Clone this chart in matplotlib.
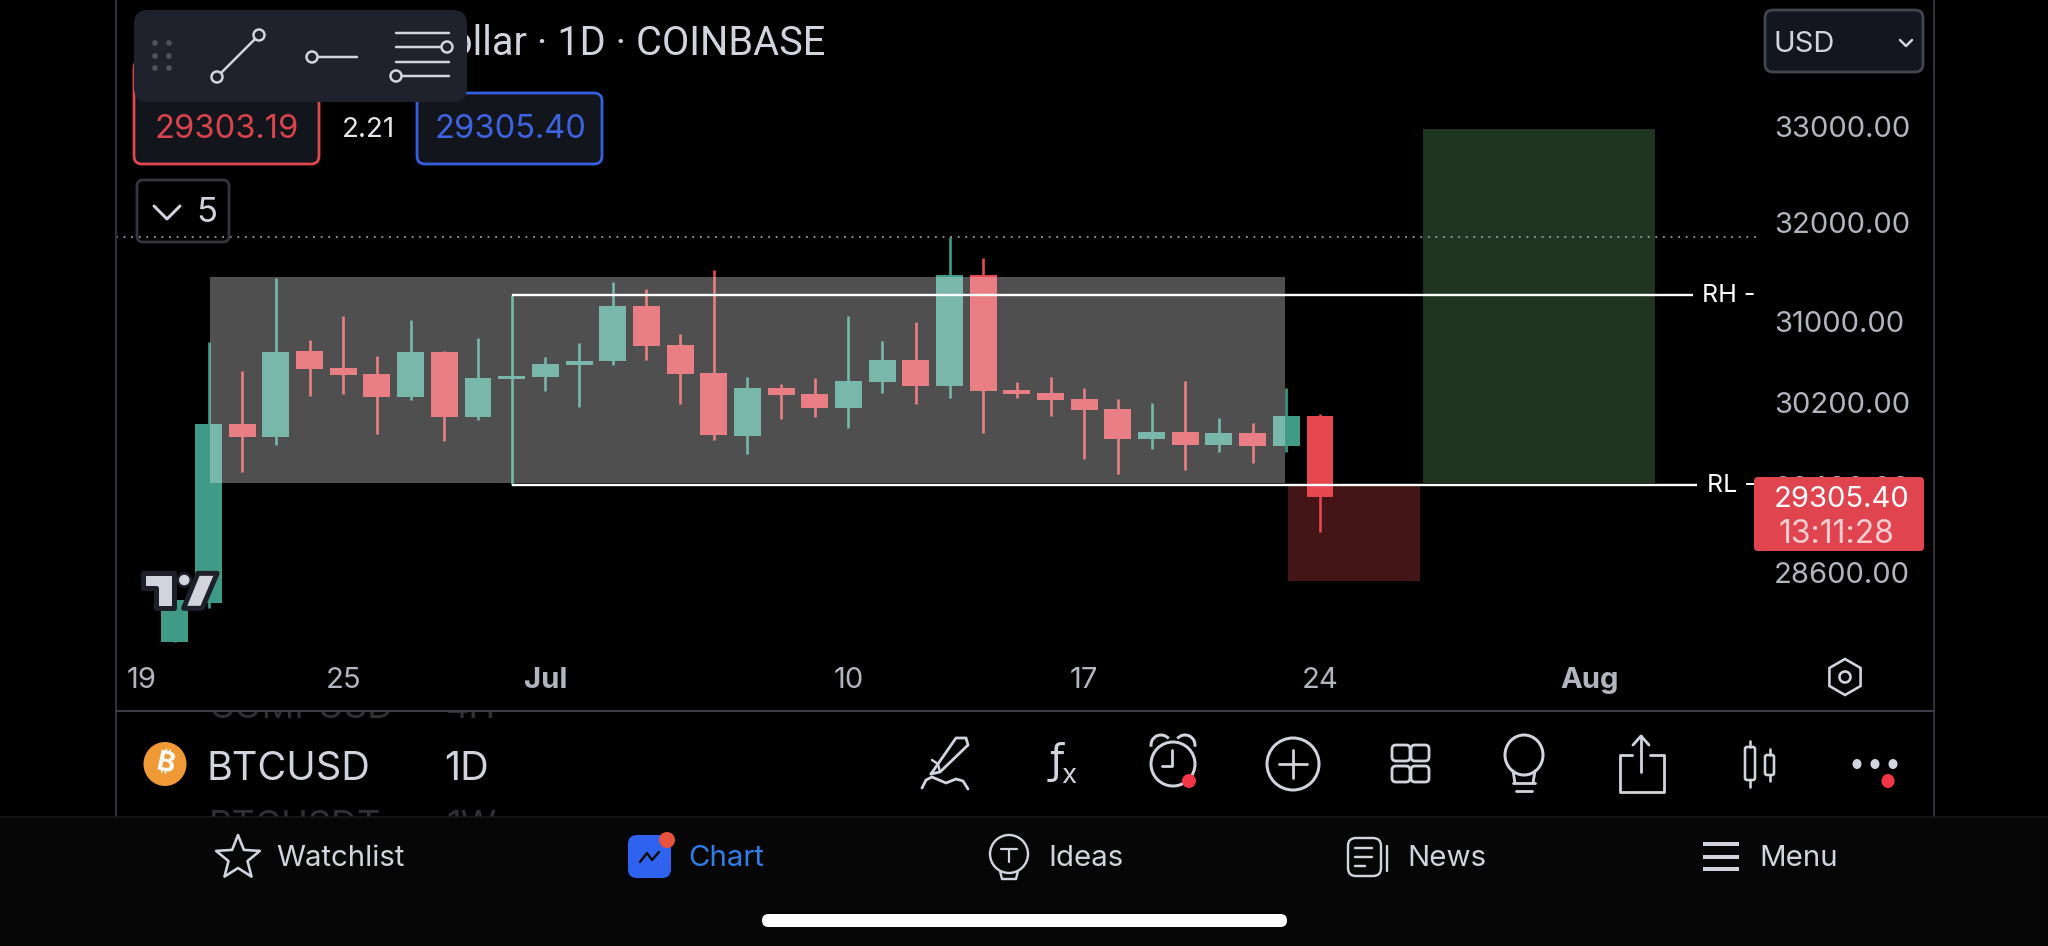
import numpy as np
import pandas as pd
import matplotlib
matplotlib.use("Agg")
import matplotlib.pyplot as plt
import matplotlib.dates as mdates
from matplotlib.patches import Rectangle, FancyBboxPatch, Circle, Polygon, Ellipse, Arc, RegularPolygon

plt.rcParams['font.family'] = ['Inter', 'Noto Sans', 'DejaVu Sans']

# ---------- data ----------
dates = pd.date_range('2023-06-20', '2023-07-24')
opens = [27972, 28323, 29997, 29872, 30708, 30541, 30482, 30258, 30698, 30065, 30434, 30453,
         30570, 30610, 31155, 30767, 30492, 29882, 30345, 30287, 30152, 30405, 30620, 30365,
         31467, 30326, 30297, 30239, 30142, 29853, 29920, 29796, 29910, 29786, 30079]
closes = [28350, 29997, 29872, 30698, 30532, 30472, 30258, 30698, 30065, 30443, 30463, 30580,
          30610, 31155, 30758, 30482, 29891, 30345, 30278, 30152, 30414, 30620, 30365, 31467,
          30316, 30287, 30229, 30132, 29853, 29920, 29796, 29910, 29786, 30079, 29305.40]
highs = [28350, 30797, 30512, 31436, 30817, 31055, 30659, 31016, 30708, 30837, 31265, 30649,
         30788, 31396, 31325, 30876, 31517, 30453, 30385, 30443, 31055, 30807, 30995, 31852,
         31639, 30405, 30453, 30345, 30239, 30200, 30414, 30055, 30007, 30345, 30093]
lows = [27972, 28278, 29538, 29796, 30268, 30287, 29901, 30229, 29834, 30036, 29415, 30316,
        30161, 30570, 30620, 30190, 29843, 29710, 30045, 30065, 29959, 30297, 30190, 30248,
        29910, 30248, 30074, 29662, 29519, 29757, 29557, 29729, 29624, 29729, 28975]

price_ticks = [33000, 32000, 31000, 30200, 29400, 28600]
date_ticks = ['2023-06-19', '2023-06-25', '2023-07-01', '2023-07-10', '2023-07-17', '2023-07-24', '2023-08-01']
date_labels = ['19', '25', 'Jul', '10', '17', '24', 'Aug']

high_marker = 31852
range_high = 31265
range_low = 29415
box_top = 31447
box_bottom = 29434
target_bottom = 29434
target_top = 32980
stop_bottom = 28523
last_price = 29305.40
countdown = '13:11:28'
bid, spread, ask = '29303.19', '2.21', '29305.40'

# ---------- figure ----------
W, H = 2048, 946
fig = plt.figure(figsize=(W / 100, H / 100), dpi=100, facecolor='black')
AX_L, AX_R, AX_B = 116, 1756, 660
ax = fig.add_axes([AX_L / W, (H - AX_B) / H, (AX_R - AX_L) / W, AX_B / H], facecolor='black')

TEAL = '#3f9b87'
RED = '#e5484f'
x = mdates.date2num(dates)
x0 = mdates.date2num(pd.Timestamp('2023-06-19'))
PX_DAY = 33.68
px2day = lambda p: x0 + (p - 141.2) / PX_DAY
# log price scale
K = 3115.0
py2price = lambda p: 30200 * np.exp((403 - p) / K)

ax.set_yscale('log')
ax.set_ylim(py2price(AX_B), py2price(0))
ax.set_xlim(px2day(AX_L), px2day(AX_R))

# boxes behind candles
ax.add_patch(Rectangle((px2day(1423), target_bottom), px2day(1655) - px2day(1423), target_top - target_bottom,
                       fc='#20351f', ec='none', zorder=1))
ax.add_patch(Rectangle((px2day(1288), stop_bottom), px2day(1420) - px2day(1288), range_low - stop_bottom,
                       fc='#431516', ec='none', zorder=1))
ax.hlines(high_marker, px2day(AX_L), px2day(AX_R), color='#9a9da3', lw=1.3, linestyles=(0, (1, 3.2)), zorder=1.5)

# candles
for xi, o, c, h, l in zip(x, opens, closes, highs, lows):
    col = TEAL if c >= o else RED
    ax.vlines(xi, l, h, color=col, lw=1.9, zorder=2)
    ax.bar(xi, abs(c - o), bottom=min(o, c), width=0.8, color=col, lw=0, zorder=2)

# grey range box over candles
ax.add_patch(Rectangle((px2day(210), box_bottom), px2day(1285) - px2day(210), box_top - box_bottom,
                       fc='#f2f2f2', alpha=0.33, ec='none', zorder=3))

# range lines
xs = mdates.date2num(pd.Timestamp('2023-06-30'))
ax.plot([xs, px2day(1693)], [range_high, range_high], color='white', lw=1.7, zorder=4, solid_capstyle='butt')
ax.plot([xs, px2day(1697)], [range_low, range_low], color='white', lw=1.7, zorder=4, solid_capstyle='butt')
ax.text(px2day(1755.5), range_high, 'RH -', color='white', fontsize=18, ha='right', va='center', zorder=5)
ax.text(px2day(1755.5), range_low, 'RL -', color='white', fontsize=18, ha='right', va='center', zorder=5)

# axes
for s in ax.spines.values():
    s.set_visible(False)
ax.yaxis.tick_right()
ax.set_yticks(price_ticks)
ax.set_yticklabels([f'{p:.2f}' for p in price_ticks], fontsize=21, color='#b2b5be')
ax.yaxis.set_minor_locator(matplotlib.ticker.NullLocator())
ax.tick_params(axis='y', length=0, pad=13)
ax.set_xticks(mdates.date2num(pd.to_datetime(date_ticks)))
ax.set_xticklabels(date_labels, fontsize=21, color='#b2b5be')
ax.tick_params(axis='x', length=0, pad=5)
for lab in ax.get_xticklabels():
    if lab.get_text() in ('Jul', 'Aug'):
        lab.set_fontweight('bold')

# ---------- interface overlay (pixel coordinates) ----------
ui = fig.add_axes([0, 0, 1, 1], facecolor='none')
ui.set_xlim(0, W)
ui.set_ylim(H, 0)
ui.axis('off')
FG = '#d1d4dc'
px = 0.72


def rbox(x0_, y0_, x1_, y1_, r, fc, ec='none', lw=1.5, z=5, **kw):
    p = FancyBboxPatch((x0_ + r, y0_ + r), x1_ - x0_ - 2 * r, y1_ - y0_ - 2 * r,
                       boxstyle=f'round,pad={r},rounding_size={r}', fc=fc, ec=ec, lw=lw, zorder=z, **kw)
    ui.add_patch(p)
    return p


def line(xs_, ys_, c=FG, w=3, z=8, **kw):
    kw.setdefault('solid_capstyle', 'round')
    ui.plot(xs_, ys_, color=c, lw=w * px, zorder=z, **kw)


def ring(cx, cy, r, c=FG, w=3, fc='none', z=8):
    ui.add_patch(Circle((cx, cy), r, fc=fc, ec=c, lw=w * px, zorder=z))


# frame
line([116, 116], [0, 817], '#2f3139', 2, z=1)
line([1934, 1934], [0, 817], '#2f3139', 2, z=1)
line([116, 1934], [711, 711], '#3a3c48', 2, z=1)

# title
ui.text(825, 43, 'Bitcoin / U.S. Dollar · 1D · COINBASE', color=FG, fontsize=28.6, family='Roboto', ha='right', va='center', zorder=4)

# bid / ask
rbox(134, 60, 319, 164, 8, '#13151d', '#e0474f', 2.0, z=5)
rbox(417, 93, 602, 164, 8, '#13151d', '#3561e0', 2.0, z=5)
ui.text(226.5, 130, bid, color='#d9434c', fontsize=23.5, ha='center', va='center', zorder=6)
ui.text(368, 130, spread, color='#e6e7ea', fontsize=20, ha='center', va='center', zorder=6)
ui.text(510, 130, ask, color='#3d63e0', fontsize=23.5, ha='center', va='center', zorder=6)

# toolbar
rbox(134, 10, 467, 102, 14, '#1f222c', z=7)
for gx in (155, 169):
    for gy in (43, 56, 68):
        ui.add_patch(Circle((gx, gy), 2.8, fc='#50535c', ec='none', zorder=8))
line([217, 259], [77, 35], FG, 2.5)
ring(217, 77, 5.5, fc='#1f222c', w=2.5, z=9)
ring(259, 35, 5.5, fc='#1f222c', w=2.5, z=9)
line([312, 357], [57, 57], FG, 2.5)
ring(312, 57, 5.5, fc='#1f222c', w=2.5, z=9)
for ly, x_a, x_b in ((33, 396, 449), (47, 396, 449), (62, 396, 449), (76, 396, 449)):
    line([x_a, x_b], [ly, ly], FG, 2.5)
ring(447, 47, 5.5, fc='#1f222c', w=2.5, z=9)
ring(396, 76, 5.5, fc='#1f222c', w=2.5, z=9)

# collapse box
rbox(137, 180, 229, 242, 6, 'none', '#33363d', 2.0, z=6)
line([154, 167, 180], [206, 219, 206], FG, 3)
ui.text(207, 213, '5', color=FG, fontsize=25, ha='center', va='center', zorder=8)

# currency box
rbox(1765, 10, 1923, 72, 8, '#13161f', '#43464f', 2.0, z=6)
ui.text(1774, 44, 'USD', color=FG, fontsize=21, ha='left', va='center', zorder=8)
line([1900, 1906, 1912], [40, 46, 40], FG, 2.5)

# price tag
rbox(1754, 477, 1924, 551, 4, '#e0454f', z=6)
ui.text(1842, 499, f'{last_price:.2f}', color='white', fontsize=21, ha='center', va='center', zorder=8)
ui.text(1836, 534, countdown, color='#f7cdd0', fontsize=23, ha='center', va='center', zorder=8)

# settings icon
ui.add_patch(RegularPolygon((1845, 677), 6, radius=18, orientation=np.pi / 3, fc='none', ec=FG, lw=2.6 * px, zorder=8))
ring(1845, 677, 5.5, w=2.6)

# TradingView logo
zx = lambda v: 120 + v / 2.8
zy = lambda v: 230 + v / 3
for pts in ([(65, 1030), (150, 1030), (150, 1135), (100, 1135), (100, 1075), (65, 1075)],
            [(218, 1030), (272, 1030), (230, 1135), (178, 1135)]):
    ui.add_patch(Polygon([(zx(a), zy(b)) for a, b in pts], fc='#d1d4dc', ec='#1d2029', lw=5 * px, joinstyle='round', zorder=7))
ui.add_patch(Ellipse((zx(180), zy(1050)), 13, 13, fc='#d1d4dc', ec='#1d2029', lw=2.5 * px, zorder=7))

# symbol row
clip = Rectangle((100, 712), 1840, 105, transform=ui.transData)
for tx, ty, s in ((209, 708, 'COMPUSD'), (446, 708, '4H'), (209, 826, 'BTCUSDT'), (446, 826, '1W')):
    t = ui.text(tx, ty, s, color='#303135', fontsize=26, ha='left', va='center', zorder=2, clip_on=True)
    t.set_clip_path(clip)
ui.add_patch(Ellipse((165, 764), 43, 44, fc='#f09a37', ec='none', zorder=6))
ui.text(165, 764, '₿', color='white', fontsize=20, fontweight='bold', rotation=-12, ha='center', va='center', zorder=7)
ui.text(207, 769, 'BTCUSD', color=FG, fontsize=28.5, ha='left', va='center', zorder=6)
ui.text(444, 769, '1D', color=FG, fontsize=28.5, ha='left', va='center', zorder=6)

# action icons
# pen
line([931, 956, 966, 968, 940, 931], [774, 738, 738, 745, 772, 774], FG, 2.8)
line([932, 938, 940], [760, 764, 772], FG, 2.4)
line([922, 926, 932, 946, 956, 963, 968], [788, 780, 777, 783, 779, 781, 789], FG, 2.8)
# fx
ui.text(1057, 762, 'ƒ', color=FG, fontsize=29, family='DejaVu Sans', ha='center', va='center', zorder=8)
ui.text(1069, 776, 'x', color=FG, fontsize=20, ha='center', va='center', zorder=8)
# alarm
ring(1173, 764, 22, w=3)
ui.add_patch(Arc((1161, 745), 20, 20, theta1=170, theta2=320, ec=FG, lw=3 * px, zorder=8))
ui.add_patch(Arc((1185, 745), 20, 20, theta1=220, theta2=10, ec=FG, lw=3 * px, zorder=8))
line([1172, 1172, 1162], [750, 766, 766], FG, 2.8)
ui.add_patch(Circle((1189, 781), 7, fc='#f23645', ec='none', zorder=9))
# plus
ring(1293, 764, 26, w=3)
line([1293, 1293], [750, 778], FG, 2.8)
line([1279, 1307], [764, 764], FG, 2.8)
# grid
for gx in (1401, 1420):
    for gy in (753, 774):
        rbox(gx - 9, gy - 8, gx + 9, gy + 8, 4, 'none', FG, 2.8 * px, z=8)
# bulb
ui.add_patch(Ellipse((1524, 755), 38, 40, fc='none', ec=FG, lw=3 * px, zorder=8))
line([1513, 1515], [771, 783], FG, 2.8)
line([1535, 1533], [771, 783], FG, 2.8)
line([1513, 1535], [783, 783], FG, 2.8)
line([1516, 1532], [791, 791], FG, 2.8)
# share
line([1632, 1620, 1620, 1664, 1664, 1650], [755, 755, 792, 792, 755, 755], FG, 2.8)
line([1641, 1641], [736, 772], FG, 2.8)
line([1633, 1641, 1649], [745, 736, 745], FG, 2.8)
# candle icon
rbox(1745, 747, 1755, 780, 2, 'none', FG, 2.6 * px, z=8)
line([1750, 1750], [741, 747], FG, 2.6)
line([1750, 1750], [780, 787], FG, 2.6)
rbox(1765, 755, 1774, 775, 2, 'none', FG, 2.6 * px, z=8)
line([1769.5, 1769.5], [749, 755], FG, 2.6)
line([1769.5, 1769.5], [775, 781], FG, 2.6)
# dots
for dx in (1857, 1875, 1893):
    ui.add_patch(Ellipse((dx, 764), 9, 10, fc=FG, ec='none', zorder=8))
ui.add_patch(Ellipse((1888, 781), 13, 14, fc='#f23645', ec='none', zorder=9))

# bottom bar
ui.add_patch(Rectangle((0, 817), W, H - 817, fc='#060606', ec='none', zorder=3))
line([0, W], [817, 817], '#17181b', 1.5, z=3)
star_a = np.deg2rad(-90 + 36 * np.arange(10))
star_r = np.array([23, 10] * 5)
ui.add_patch(Polygon(np.c_[238 + star_r * np.cos(star_a), 858 + star_r * np.sin(star_a)], fc='none', ec=FG, lw=2.6 * px, joinstyle='round', zorder=8))
NAV_Y, NAV_FS = 858, 21.2
ui.text(276, NAV_Y, 'Watchlist', color=FG, fontsize=NAV_FS, ha='left', va='center', zorder=8)
rbox(628, 835, 671, 878, 9, '#2f62ee', z=8)
line([640, 647, 652, 659], [862, 853, 860, 852], '#0a0a0a', 2.4, z=9)
ui.add_patch(Circle((667, 840), 8, fc='#e8533f', ec='none', zorder=9))
ui.text(688, NAV_Y, 'Chart', color='#2f7fe8', fontsize=NAV_FS, ha='left', va='center', zorder=8)
# ideas icon
ring(1009, 854, 19, w=2.4)
line([1001, 1017], [849, 849], FG, 2.2)
line([1009, 1009], [849, 862], FG, 2.2)
line([1000, 1002, 1016, 1018], [871, 879, 879, 871], FG, 2.4)
ui.text(1048, NAV_Y, 'Ideas', color=FG, fontsize=NAV_FS, ha='left', va='center', zorder=8)
# news icon
rbox(1348, 838, 1381, 876, 8, 'none', FG, 2.4 * px, z=8)
for ny, nx in ((848, 1372), (857, 1372), (866, 1365)):
    line([1355, nx], [ny, ny], FG, 2.4)
line([1387, 1387], [846, 871], FG, 2.4)
ui.text(1407, NAV_Y, 'News', color=FG, fontsize=NAV_FS, ha='left', va='center', zorder=8)
for my in (844, 857, 869):
    line([1703, 1739], [my, my], FG, 4, solid_capstyle='butt')
ui.text(1759, NAV_Y, 'Menu', color=FG, fontsize=NAV_FS, ha='left', va='center', zorder=8)

# home indicator
rbox(762, 914, 1287, 927, 6.5, 'white', z=8)

fig.savefig('out.png', dpi=100, facecolor='black')
